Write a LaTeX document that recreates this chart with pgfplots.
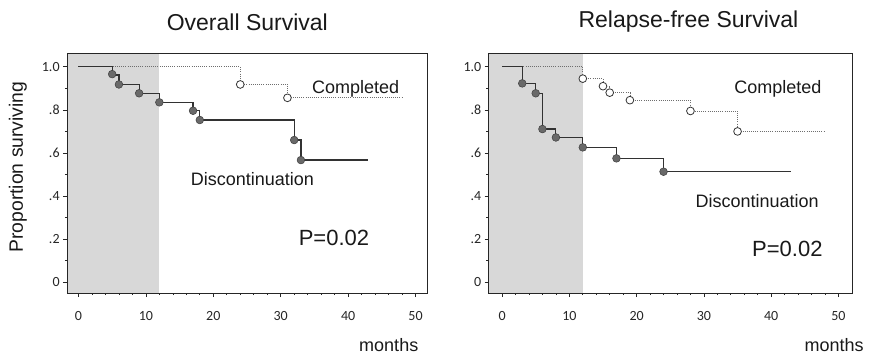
\documentclass[border=0pt]{standalone}
\usepackage{pgfplots}
\pgfplotsset{compat=1.18}
\usepackage{fontspec}
\setmainfont{Liberation Sans}
\newfontfamily\tickfont{Carlito}
\definecolor{shade}{RGB}{216,216,216}
\definecolor{dline}{RGB}{50,50,50}
\definecolor{cline}{RGB}{110,110,110}
\definecolor{dmark}{RGB}{105,105,105}
\pgfplotsset{
  kmstyle/.style={
    scale only axis, height=180pt,
    ymin=-0.05, ymax=1.064,
    axis line style={draw=black!85, line width=0.6pt},
    tick align=outside,
    xtick pos=lower, ytick pos=left,
    xtick={0,10,20,30,40,50},
    minor x tick num=4,
    ytick={0,0.2,0.4,0.6,0.8,1.0},
    yticklabels={0,.2,.4,.6,.8,1.0},
    minor y tick num=1,
    major tick length=3pt, minor tick length=1.6pt,
    every tick/.style={black!85, line width=0.5pt},
    /pgf/number format/assume math mode=true,
    ticklabel style={font=\tickfont\fontsize{10.5pt}{11pt}\selectfont, text=black!85},
    xticklabel style={yshift=-7pt},
    yticklabel style={xshift=1pt},
    clip=false,
    axis on top,
  },
  disc/.style={const plot, dline, line width=0.9pt, mark=none},
  comp/.style={const plot, cline, line width=0.6pt, densely dotted, mark=none},
  discm/.style={only marks, mark=*, mark size=2.9pt, mark options={fill=dmark, draw=black!75, line width=0.4pt, solid}},
  compm/.style={only marks, mark=*, mark size=2.9pt, mark options={fill=white, draw=black!80, line width=0.6pt, solid}},
}
\begin{document}
\begin{tikzpicture}
\useasboundingbox (-50.25pt,-46.5pt) rectangle (602.25pt,219.75pt);
% ---------------- Overall Survival ----------------
\begin{axis}[kmstyle, width=270.5pt, xmin=-1.7, xmax=51.8, at={(0pt,0pt)}, anchor=south west]
\addplot[fill=shade, draw=none] coordinates {(-1.7,-0.05) (12,-0.05) (12,1.064) (-1.7,1.064)} -- cycle;
\addplot[comp] coordinates {(0,1) (24,0.918) (31,0.856) (48,0.856)};
\addplot[disc] coordinates {(0,1) (5,0.962) (6,0.918) (9,0.877) (12,0.835) (17,0.796) (18,0.753) (32,0.66) (33,0.567) (43,0.567)};
\addplot[compm] coordinates {(24,0.918) (31,0.856)};
\addplot[discm] coordinates {(5,0.966) (6,0.918) (9,0.877) (12,0.835) (17,0.796) (18,0.753) (32,0.66) (33,0.567)};
\node[font=\fontsize{13.5pt}{15pt}\selectfont, text=black!90] at (axis cs:41.1,0.897) {Completed};
\node[font=\fontsize{13.5pt}{15pt}\selectfont, text=black!90] at (axis cs:25.8,0.479) {Discontinuation};
\node[font=\fontsize{16.5pt}{18pt}\selectfont, text=black!90] at (axis cs:37.9,0.204) {P=0.02};
\node[font=\fontsize{17.25pt}{19pt}\selectfont, text=black!90] at (rel axis cs:0.5,1) [yshift=23.25pt] {Overall Survival};
\node[font=\fontsize{14.5pt}{16pt}\selectfont, text=black!90, rotate=90] at (rel axis cs:-0.1359,0.525) {Proportion surviving};
\node[font=\fontsize{13.5pt}{15pt}\selectfont, text=black!90, anchor=east] at (rel axis cs:0.987,0) [yshift=-39pt] {months};
\end{axis}
% ---------------- Relapse-free Survival ----------------
\begin{axis}[kmstyle, width=272.5pt, xmin=-2, xmax=52, at={(316.2pt,0pt)}, anchor=south west]
\addplot[fill=shade, draw=none] coordinates {(-2,-0.05) (12,-0.05) (12,1.064) (-2,1.064)} -- cycle;
\addplot[comp] coordinates {(0,1) (12,0.945) (15,0.91) (16,0.88) (19,0.845) (28,0.795) (35,0.70) (48,0.70)};
\addplot[disc] coordinates {(0,1) (3,0.923) (5,0.877) (6,0.711) (8,0.672) (12,0.626) (17,0.575) (24,0.513) (43,0.513)};
\addplot[compm] coordinates {(12,0.945) (15,0.91) (16,0.88) (19,0.845) (28,0.795) (35,0.70)};
\addplot[discm] coordinates {(3,0.923) (5,0.877) (6,0.711) (8,0.672) (12,0.626) (17,0.575) (24,0.513)};
\node[font=\fontsize{13.5pt}{15pt}\selectfont, text=black!90] at (axis cs:41.0,0.897) {Completed};
\node[font=\fontsize{13.5pt}{15pt}\selectfont, text=black!90] at (axis cs:37.9,0.378) {Discontinuation};
\node[font=\fontsize{16.5pt}{18pt}\selectfont, text=black!90] at (axis cs:42.4,0.155) {P=0.02};
\node[font=\fontsize{17.25pt}{19pt}\selectfont, text=black!90] at (rel axis cs:0.55,1) [yshift=23.25pt] {Relapse-free Survival};
\node[font=\fontsize{13.5pt}{15pt}\selectfont, text=black!90, anchor=east] at (rel axis cs:1.045,0) [yshift=-39pt] {months};
\end{axis}
\end{tikzpicture}
\end{document}
